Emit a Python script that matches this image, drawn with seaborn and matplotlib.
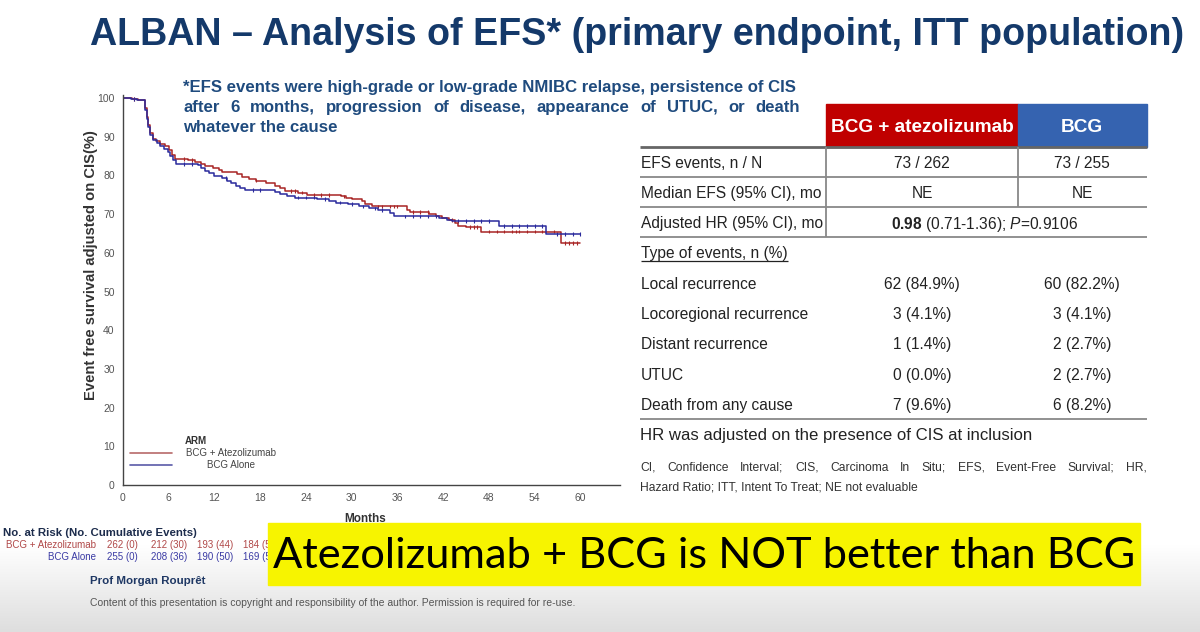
import numpy as np
import pandas as pd
import matplotlib
matplotlib.use('Agg')
import matplotlib.pyplot as plt
import seaborn as sns
from matplotlib.patches import Rectangle
from matplotlib.colors import LinearSegmentedColormap

# Kaplan-Meier steps (month, EFS %)
red_months = [0, 1.2, 2.0, 2.9, 3.1, 3.3, 3.6, 3.9, 4.3, 4.8, 5.5, 6.1, 6.4, 6.8, 8.5, 9.5, 10.2, 10.8,
              11.8, 12.6, 13.0, 15.0, 15.6, 16.5, 17.5, 18.8, 20.0, 20.6, 21.3, 23.0, 24.2, 28.6, 29.3,
              30.0, 31.3, 31.8, 32.6, 37.2, 37.7, 40.2, 41.0, 41.8, 42.8, 43.6, 44.0, 45.0, 47.0, 57.5, 60.0]
red_efs = [100, 99.7, 99.4, 97.5, 95, 93, 91, 89.5, 88.8, 88.2, 87.5, 86.5, 85.2, 84.2, 84.0, 83.6, 83.0, 82.5,
           82.0, 81.5, 81.0, 80.3, 79.7, 79.2, 78.7, 78.0, 77.4, 76.8, 76.0, 75.6, 75.0, 74.6, 74.1,
           73.8, 73.3, 72.5, 72.0, 71.2, 70.5, 70.0, 69.5, 69.0, 68.5, 67.8, 67.0, 66.7, 65.5, 62.5, 62.5]
blue_months = [0, 1.0, 1.8, 2.9, 3.1, 3.3, 3.6, 3.9, 4.4, 4.9, 5.4, 5.9, 6.2, 6.6, 7.0, 9.8, 10.2, 10.8,
               11.3, 12.0, 13.0, 13.6, 14.2, 14.8, 15.3, 16.0, 20.0, 20.6, 21.5, 22.5, 25.5, 27.0, 28.0,
               29.5, 31.0, 32.3, 33.5, 35.0, 35.6, 41.5, 42.5, 43.2, 49.3, 55.5, 56.5, 60.0]
blue_efs = [100, 99.8, 99.5, 97, 94.5, 92.5, 90.5, 89.2, 88.5, 87.5, 86.8, 86.0, 85.0, 84.0, 83.0, 82.6, 82.0, 81.2,
            80.6, 79.8, 79.4, 78.7, 78.0, 77.2, 76.7, 76.2, 75.7, 75.2, 74.8, 74.3, 74.0, 73.5, 73.0,
            72.6, 72.0, 71.5, 71.0, 70.4, 69.4, 69.0, 68.5, 68.3, 67.0, 65.0, 64.8, 64.8]
red_censored = [1.5, 8, 9, 17.5, 22, 22.5, 23.5, 25, 26, 27, 29, 33.5, 34, 35, 35.5, 36, 38, 39, 40, 43.2,
                45.5, 46, 46.5, 48, 49, 50, 51, 51.5, 52, 53, 54, 55, 56.5, 58, 58.5, 59, 59.5]
blue_censored = [1.5, 8, 9, 13.5, 17, 18, 23, 24, 25, 26.5, 28.5, 30, 31.5, 33, 34, 37, 38, 39, 40, 41,
                 44, 45, 46, 47, 48, 50, 51, 52, 53, 54, 55, 57, 58, 59, 60]
arms = ['BCG + Atezolizumab', 'BCG Alone']
arm_colors = ['#a82424', '#2a2a9c']

# number at risk table (partly hidden under the yellow banner)
risk_red = ['262 (0)', '212 (30)', '193 (44)', '184 (5']
risk_blue = ['255 (0)', '208 (36)', '190 (50)', '169 (5']

# EFS table
top_rows = ['EFS events, n / N', 'Median EFS (95% CI), mo', 'Adjusted HR (95% CI), mo']
combo_top = ['73 / 262', 'NE']
bcg_top = ['73 / 255', 'NE']
event_types = ['Local recurrence', 'Locoregional recurrence', 'Distant recurrence', 'UTUC', 'Death from any cause']
combo_n = [62, 3, 1, 0, 7]
combo_pct = [84.9, 4.1, 1.4, 0.0, 9.6]
bcg_n = [60, 3, 2, 2, 6]
bcg_pct = [82.2, 4.1, 2.7, 2.7, 8.2]

sns.set_style('white')
plt.rcParams['font.family'] = ['Liberation Sans', 'DejaVu Sans']
plt.rcParams['mathtext.fontset'] = 'custom'
plt.rcParams['mathtext.rm'] = 'Liberation Sans'
plt.rcParams['mathtext.bf'] = 'Liberation Sans:bold'
plt.rcParams['mathtext.it'] = 'Liberation Sans:italic'

fig = plt.figure(figsize=(12, 6.32), dpi=100)
renderer = fig.canvas.get_renderer()

# full-slide overlay in pixel units
bg = fig.add_axes([0, 0, 1, 1], zorder=0)
cmap = LinearSegmentedColormap.from_list('fade', ['#ffffff', '#dedede'])
bg.imshow(np.linspace(0, 1, 100)[:, None], extent=[0, 1200, 632, 545], cmap=cmap, aspect='auto')
bg.set_xlim(0, 1200)
bg.set_ylim(632, 0)
bg.axis('off')


def fit(t, width):
    w = t.get_window_extent(renderer).width
    t.set_fontsize(t.get_fontsize() * width / w)
    return t


def justify(line, x0, x1, y, **kw):
    words = [bg.text(0, y, w, ha='left', va='baseline', **kw) for w in line.split()]
    widths = [t.get_window_extent(renderer).width for t in words]
    gap = (x1 - x0 - sum(widths)) / (len(words) - 1)
    x = x0
    for t, w in zip(words, widths):
        t.set_x(x)
        x += w + gap


# title
t = bg.text(90, 45, 'ALBAN \u2013 Analysis of EFS* (primary endpoint, ITT population)', ha='left',
            va='baseline', fontsize=23, fontweight='bold', color='#14396a')
fit(t, 1095)

# footnote
navy = '#1f4b7e'
t = bg.text(183, 92, '*EFS events were high-grade or low-grade NMIBC relapse, persistence of CIS',
            ha='left', va='baseline', fontsize=10, fontweight='bold', color=navy)
fit(t, 617)
fs_note = t.get_fontsize()
justify('after 6 months, progression of disease, appearance of UTUC, or death', 183, 800, 112,
        fontsize=fs_note, fontweight='bold', color=navy)
bg.text(183, 132, 'whatever the cause', ha='left', va='baseline', fontsize=fs_note,
        fontweight='bold', color=navy)

# KM plot
ax = fig.add_axes([123 / 1200, 1 - 485 / 632, 497 / 1200, 390 / 632], zorder=1)
ax.patch.set_alpha(0)
km = pd.concat([
    pd.DataFrame({'month': red_months, 'efs': red_efs, 'arm': arms[0]}),
    pd.DataFrame({'month': blue_months, 'efs': blue_efs, 'arm': arms[1]}),
])
sns.lineplot(data=km, x='month', y='efs', hue='arm', palette=arm_colors, estimator=None,
             drawstyle='steps-post', linewidth=1.1, legend=False, ax=ax)


def at_time(months, efs, times):
    idx = np.searchsorted(months, times, side='right') - 1
    return np.asarray(efs)[idx]


cens = pd.concat([
    pd.DataFrame({'month': red_censored, 'efs': at_time(red_months, red_efs, red_censored), 'arm': arms[0]}),
    pd.DataFrame({'month': blue_censored, 'efs': at_time(blue_months, blue_efs, blue_censored), 'arm': arms[1]}),
])
sns.scatterplot(data=cens, x='month', y='efs', hue='arm', palette=arm_colors, marker='|', s=7,
                linewidth=0.8, legend=False, ax=ax)

ax.set_xlim(0, 65.2)
ax.set_ylim(0, 100.8)
ax.set_xticks(range(0, 61, 6))
ax.set_yticks(range(0, 101, 10))
ax.tick_params(direction='out', length=4, width=0.8, color='#444', labelcolor='#555', labelsize=7.5, pad=2)
sns.despine(ax=ax)
for s in ['left', 'bottom']:
    ax.spines[s].set_color('#444')
    ax.spines[s].set_linewidth(1.0)
ylab = ax.set_ylabel('Event free survival adjusted on CIS(%)', fontsize=8.5, fontweight='bold', color='#333')
ax.yaxis.set_label_coords(-0.05, 0.564)
h = ylab.get_window_extent(renderer).height
ylab.set_fontsize(8.5 * 270 / h)
ax.set_xlabel('Months', fontsize=8.5, fontweight='bold', color='#333')
ax.xaxis.set_label_coords(0.487, -0.072)

# legend
bg.text(196, 440, 'ARM', ha='center', va='center_baseline', fontsize=7, fontweight='bold', color='#333')
for i, (arm, col) in enumerate(zip(arms, ['#b86a6a', '#5a5aa8'])):
    y = 453 + i * 12
    bg.plot([130, 172], [y, y], color=col, lw=1.2)
    bg.text(231, y, arm, ha='center', va='center', fontsize=7, color='#444')

# table
bg.add_patch(Rectangle((826, 104), 192, 43, color='#c00000', zorder=2))
bg.add_patch(Rectangle((1018, 104), 129, 43, color='#3563b0', zorder=2))
t = bg.text(922, 126, 'BCG + atezolizumab', ha='center', va='center_baseline', fontsize=11,
            fontweight='bold', color='white', zorder=3)
fit(t, 184)
bg.text(1082, 126, 'BCG', ha='center', va='center_baseline', fontsize=t.get_fontsize(),
        fontweight='bold', color='white', zorder=3)
bg.hlines(147, 640, 1147, color='#666', lw=2)
bg.hlines([177, 207, 237, 419], 640, 1147, color='#888', lw=1.3)
bg.vlines(826, 147, 237, color='#888', lw=1.3)
bg.vlines(1018, 147, 207, color='#888', lw=1.3)

tfs = 11.2
tcol = '#222'
for i, lab in enumerate(top_rows):
    y = 162 + 30 * i
    bg.text(641, y, lab, ha='left', va='center_baseline', fontsize=tfs, color=tcol)
    if i < 2:
        bg.text(922, y, combo_top[i], ha='center', va='center_baseline', fontsize=tfs, color=tcol)
        bg.text(1082, y, bcg_top[i], ha='center', va='center_baseline', fontsize=tfs, color=tcol)
bg.text(985, 222, r'$\mathbf{0.98}$ (0.71-1.36); $\mathit{P}$=0.9106', ha='center', va='center_baseline',
        fontsize=tfs, color=tcol)
t = bg.text(641, 252, 'Type of events, n (%)', ha='left', va='center_baseline', fontsize=tfs, color=tcol)
ext = t.get_window_extent(renderer)
bg.hlines(261, 641, 641 + ext.width, color=tcol, lw=0.9)
for i, lab in enumerate(event_types):
    y = 283 + 30.2 * i
    bg.text(641, y, lab, ha='left', va='center_baseline', fontsize=tfs, color=tcol)
    bg.text(922, y, f'{combo_n[i]} ({combo_pct[i]:.1f}%)', ha='center', va='center_baseline',
            fontsize=tfs, color=tcol)
    bg.text(1082, y, f'{bcg_n[i]} ({bcg_pct[i]:.1f}%)', ha='center', va='center_baseline',
            fontsize=tfs, color=tcol)
t = bg.text(640, 434, 'HR was adjusted on the presence of CIS at inclusion', ha='left',
            va='center_baseline', fontsize=tfs, color=tcol)
fit(t, 390)
bg.text(640, 491, 'Hazard Ratio; ITT, Intent To Treat; NE not evaluable', ha='left', va='baseline',
        fontsize=8.7, color='#333')
justify('CI, Confidence Interval; CIS, Carcinoma In Situ; EFS, Event-Free Survival; HR,', 640, 1147, 471,
        fontsize=8.7, color='#333')

# number at risk
t = bg.text(3, 532, 'No. at Risk (No. Cumulative Events)', ha='left', va='center_baseline', fontsize=7.5,
            fontweight='bold', color='#1c2c4c')
fit(t, 192)
for arm, col, vals, y in [(arms[0], '#b04848', risk_red, 544), (arms[1], '#3a3aa4', risk_blue, 556)]:
    t = bg.text(96, y, arm, ha='right', va='center_baseline', fontsize=7, color=col)
    for x, v in zip([107, 151, 197, 243], vals):
        bg.text(x, y, v, ha='left', va='center_baseline', fontsize=t.get_fontsize(), color=col)

# yellow banner
bg.add_patch(Rectangle((268, 523), 872, 62, color='#f7f400', zorder=4))
t = bg.text(704, 556, 'Atezolizumab + BCG is NOT better than BCG', ha='center', va='center',
            fontsize=30, color='black', family=['Lato', 'DejaVu Sans'], zorder=5)
fit(t, 862)

# footer
t = bg.text(90, 580, 'Prof Morgan Roupr\u00eat', ha='left', va='center_baseline', fontsize=8,
            fontweight='bold', color='#1f3864')
fit(t, 115)
t = bg.text(90, 602, 'Content of this presentation is copyright and responsibility of the author. '
            'Permission is required for re-use.', ha='left', va='center_baseline', fontsize=7, color='#555')
fit(t, 487)

fig.savefig('out.png', dpi=100)
